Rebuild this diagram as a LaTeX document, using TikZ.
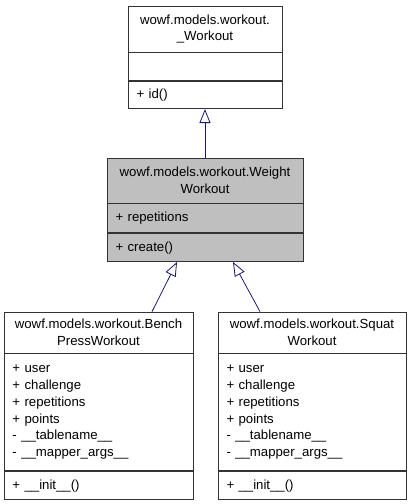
\documentclass[tikz,border=0pt]{standalone}
\usepackage{fontspec}
\setmainfont{Liberation Sans}
\usepackage{tikz}
\usetikzlibrary{positioning,arrows.meta}

\definecolor{edgeblue}{HTML}{191970}
\definecolor{boxgray}{HTML}{BFBFBF}
\newcommand{\umlfont}{\fontsize{13.2}{16.8}\selectfont}

\tikzset{
  umlbox/.style={draw=black!80, line width=0.8pt, inner xsep=8.5pt, inner ysep=0pt,
    text width=#1, font=\umlfont},
  umlname/.style={umlbox=#1, align=center},
  umlmembers/.style={umlbox=#1, align=left},
  inherit/.style={draw=edgeblue, line width=0.8pt,
    -{Triangle[length=14pt, width=11pt, fill=white]}},
}

\begin{document}
\begin{tikzpicture}[x=1pt, y=1pt, node distance=0pt]
    \useasboundingbox (0,0) rectangle (411,-504);

    % base class
    \node[umlname=137pt, minimum height=46pt] (wo-name) at (205,-29) {wowf.models.workout.\\\_Workout};
    \node[umlmembers=137pt, minimum height=28pt, below=of wo-name] (wo-attr) {};
    \node[umlmembers=137pt, minimum height=27pt, below=of wo-attr] (wo-ops) {+ id()};

    % WeightWorkout
    \node[umlname=179pt, fill=boxgray, minimum height=45pt] (ww-name) at (205,-180.5) {wowf.models.workout.Weight\\Workout};
    \node[umlmembers=179pt, fill=boxgray, minimum height=29pt, below=of ww-name] (ww-attr) {+ repetitions};
    \node[umlmembers=179pt, fill=boxgray, minimum height=28pt, below=of ww-attr] (ww-ops) {+ create()};

    % BenchPressWorkout
    \node[umlname=172pt, minimum height=41pt] (bp-name) at (98.5,-332.5) {wowf.models.workout.Bench\\PressWorkout};
    \node[umlmembers=172pt, minimum height=117pt, below=of bp-name] (bp-attr) {+ user\\+ challenge\\+ repetitions\\+ points\\- \_\_tablename\_\_\\- \_\_mapper\_args\_\_};
    \node[umlmembers=172pt, minimum height=28pt, below=of bp-attr] (bp-ops) {+ \_\_init\_\_()};

    % SquatWorkout
    \node[umlname=171pt, minimum height=41pt] (sq-name) at (312,-332.5) {wowf.models.workout.Squat\\Workout};
    \node[umlmembers=171pt, minimum height=117pt, below=of sq-name] (sq-attr) {+ user\\+ challenge\\+ repetitions\\+ points\\- \_\_tablename\_\_\\- \_\_mapper\_args\_\_};
    \node[umlmembers=171pt, minimum height=28pt, below=of sq-attr] (sq-ops) {+ \_\_init\_\_()};

    % inheritance
    \draw[inherit] (ww-name.north) -- (wo-ops.south);
    \draw[inherit] ([xshift=53.5pt]bp-name.north) -- ([xshift=-28pt]ww-ops.south);
    \draw[inherit] ([xshift=-52pt]sq-name.north) -- ([xshift=28pt]ww-ops.south);
\end{tikzpicture}
\end{document}
